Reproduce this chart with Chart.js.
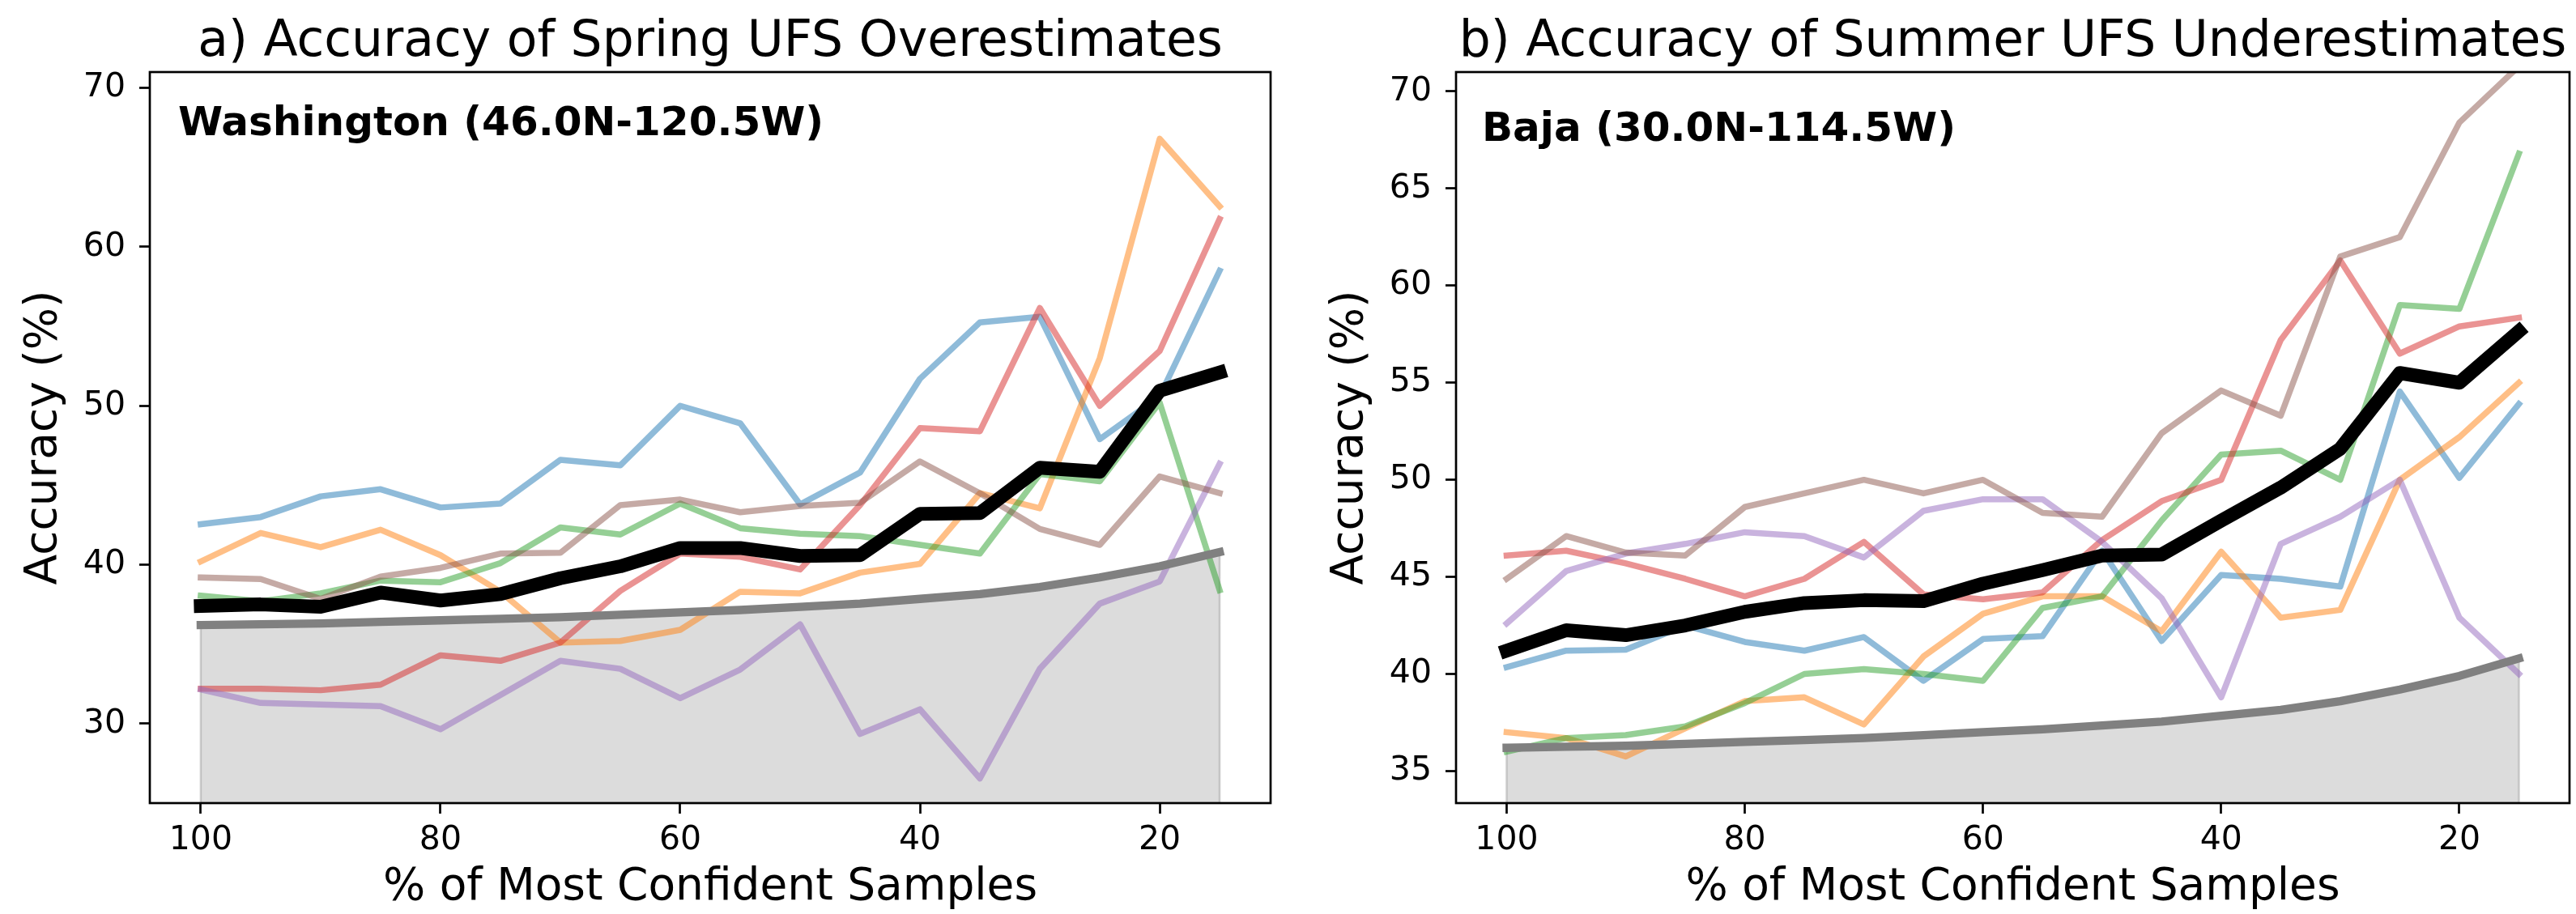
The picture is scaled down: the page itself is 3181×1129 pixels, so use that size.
<!DOCTYPE html>
<html>
<head>
<meta charset="utf-8">
<script src="https://cdn.jsdelivr.net/npm/chart.js@4"></script>
<style>
html,body{margin:0;padding:0;background:#fff;}
#wrap{position:relative;width:3181px;height:1129px;overflow:hidden;background:#fff;}
#wrap canvas{position:absolute;top:0;}
</style>
</head>
<body>
<div id="wrap">
  <canvas id="chA" width="1590" height="1129" style="left:0"></canvas>
  <canvas id="chB" width="1591" height="1129" style="left:1590px"></canvas>
</div>
<script>
/* Accuracy vs. share of most confident samples */
// x: % of most confident samples kept (same for both panels)
const pct=[100,95,90,85,80,75,70,65,60,55,50,45,40,35,30,25,20,15];
const xTicks=[100,80,60,40,20];
// reference accuracy curve (gray line + shaded area)
const baseAcc=[36.2,36.25,36.3,36.4,36.5,36.6,36.7,36.85,37.0,37.15,37.35,37.55,37.85,38.15,38.6,39.2,39.9,40.8];

// a) Washington, spring overestimates
const waBlue  =[42.55,43.0,44.3,44.75,43.6,43.85,46.6,46.25,50.0,48.9,43.8,45.8,51.7,55.25,55.6,47.9,50.6,58.5];
const waOrange=[40.2,42.0,41.1,42.2,40.6,38.3,35.1,35.2,35.9,38.3,38.2,39.5,40.05,44.5,43.55,53.0,66.8,62.55];
const waGreen =[38.05,37.7,38.2,39.0,38.9,40.1,42.35,41.9,43.85,42.3,41.95,41.8,41.25,40.7,45.7,45.25,50.2,38.4];
const waRed   =[32.2,32.2,32.1,32.45,34.3,33.95,35.1,38.35,40.7,40.5,39.7,43.75,48.6,48.4,56.15,50.0,53.45,61.75];
const waPurple=[32.15,31.3,31.2,31.1,29.65,31.8,33.95,33.45,31.6,33.4,36.25,29.35,30.9,26.55,33.45,37.55,38.95,46.35];
const waBrown =[39.2,39.1,37.85,39.25,39.8,40.7,40.75,43.75,44.1,43.3,43.7,43.9,46.5,44.5,42.25,41.25,45.55,44.5];
const waMean  =[37.4,37.5,37.35,38.25,37.75,38.15,39.15,39.9,41.05,41.05,40.55,40.6,43.2,43.25,46.1,45.85,50.95,52.1];
const waTicks=[30,40,50,60,70];

// b) Baja, summer underestimates
const bjBlue  =[40.35,41.2,41.25,42.5,41.65,41.2,41.9,39.65,41.8,41.95,46.35,41.7,45.1,44.9,44.5,54.55,50.1,53.9];
const bjOrange=[37.0,36.7,35.75,37.2,38.6,38.8,37.4,40.9,43.1,44.0,44.0,42.2,46.3,42.9,43.3,50.0,52.2,55.0];
const bjGreen =[36.0,36.7,36.85,37.3,38.5,40.0,40.25,40.0,39.65,43.4,44.0,47.9,51.3,51.5,50.0,59.0,58.8,66.8];
const bjRed   =[46.1,46.35,45.7,44.9,44.0,44.9,46.8,44.1,43.85,44.2,46.9,48.9,50.0,57.2,61.3,56.5,57.9,58.35];
const bjPurple=[42.6,45.3,46.2,46.7,47.3,47.1,46.0,48.4,49.0,49.0,46.8,43.9,38.8,46.7,48.1,50.0,42.9,40.0];
const bjBrown =[44.9,47.1,46.25,46.1,48.6,49.3,50.0,49.3,50.0,48.3,48.1,52.4,54.6,53.3,61.5,62.5,68.4,71.3];
const bjMean  =[41.2,42.25,42.0,42.5,43.2,43.65,43.8,43.75,44.65,45.35,46.1,46.15,47.9,49.6,51.6,55.5,55.0,57.65];
const bjTicks=[35,40,45,50,55,60,65,70];

const C={blue:'rgba(31,119,180,0.5)',orange:'rgba(255,127,14,0.5)',green:'rgba(44,160,44,0.5)',
  red:'rgba(214,39,40,0.5)',purple:'rgba(148,103,189,0.5)',brown:'rgba(140,86,75,0.5)'};

Chart.defaults.font.family="'DejaVu Sans', sans-serif";
Chart.defaults.color='#000';

const pts=v=>pct.map((x,i)=>({x,y:v[i]}));
function line(v,color,w,order){
  return {data:pts(v),borderColor:color,borderWidth:w,pointRadius:0,fill:false,order,clip:0,
    borderJoinStyle:'round',borderCapStyle:'square'};
}
// shaded area under the reference curve, closed down to the axis floor
function band(yMin){
  const d=[{x:pct[0],y:yMin},...pts(baseAcc),{x:pct[pct.length-1],y:yMin}];
  return {data:d,borderColor:'rgba(160,160,160,0.5)',borderWidth:2.5,backgroundColor:'#dcdcdc',
    fill:'start',pointRadius:0,order:9,clip:0};
}

// axes frame, panel title and site label
const frameText={id:'frameText',afterDraw(c,args,o){
  const {ctx,chartArea:a}=c;
  ctx.save();
  ctx.strokeStyle='#000';ctx.lineWidth=2.7;
  ctx.strokeRect(a.left,a.top,a.right-a.left,a.bottom-a.top);
  ctx.fillStyle='#000';ctx.textBaseline='alphabetic';
  ctx.font="61.5px 'DejaVu Sans'";ctx.textAlign='center';
  ctx.fillText(o.title,(a.left+a.right)/2,a.top-20.5);
  ctx.font="bold 50px 'DejaVu Sans'";ctx.textAlign='left';
  ctx.fillText(o.site,a.left+o.dx,a.top+o.dy);
  ctx.restore();
}};

function makeChart(id,p){
  const tickGrid={drawOnChartArea:false,drawTicks:true,tickLength:13,tickWidth:2.7,tickColor:'#000'};
  return new Chart(document.getElementById(id),{
    type:'line',
    data:{datasets:[
      line(p.mean,'#000',17,0),
      line(baseAcc,'#808080',10.3,1),
      line(p.brown,C.brown,7.5,2),
      line(p.purple,C.purple,7.5,3),
      line(p.red,C.red,7.5,4),
      line(p.green,C.green,7.5,5),
      line(p.orange,C.orange,7.5,6),
      line(p.blue,C.blue,7.5,7),
      band(p.yMin)
    ]},
    options:{
      responsive:false,animation:false,devicePixelRatio:1,
      layout:{padding:{top:89,left:0,right:p.padR,bottom:0}},
      plugins:{legend:{display:false},tooltip:{enabled:false},
        frameText:{title:p.title,site:p.site,dx:p.dx,dy:p.dy}},
      scales:{
        x:{type:'linear',reverse:true,min:10.75,max:104.25,
          afterFit:s=>{s.height=137;},
          afterBuildTicks:s=>{s.ticks=xTicks.map(value=>({value}));},
          grid:tickGrid,border:{display:false},
          ticks:{font:{size:41},padding:9,color:'#000',maxRotation:0,autoSkip:false},
          title:{display:true,text:'% of Most Confident Samples',color:'#000',
            font:{size:55,lineHeight:1},padding:{top:0,bottom:5}}},
        y:{type:'linear',min:p.yMin,max:71,
          afterFit:s=>{s.width=p.axisW;},
          afterBuildTicks:s=>{s.ticks=p.yTicks.map(value=>({value}));},
          grid:tickGrid,border:{display:false},
          ticks:{font:{size:41},padding:17,color:'#000',autoSkip:false},
          title:{display:true,text:'Accuracy (%)',color:'#000',
            font:{size:55,lineHeight:1},padding:{top:p.labPad,bottom:0}}}
      }
    },
    plugins:[frameText]
  });
}

makeChart('chA',{title:'a) Accuracy of Spring UFS Overestimates',site:'Washington (46.0N-120.5W)',
  dx:35,dy:78,yMin:25,yTicks:waTicks,axisW:185,padR:21,labPad:27.5,
  blue:waBlue,orange:waOrange,green:waGreen,red:waRed,purple:waPurple,brown:waBrown,mean:waMean});
makeChart('chB',{title:'b) Accuracy of Summer UFS Underestimates',site:'Baja (30.0N-114.5W)',
  dx:32,dy:85,yMin:33.35,yTicks:bjTicks,axisW:208,padR:8,labPad:50.5,
  blue:bjBlue,orange:bjOrange,green:bjGreen,red:bjRed,purple:bjPurple,brown:bjBrown,mean:bjMean});
</script>
</body>
</html>
